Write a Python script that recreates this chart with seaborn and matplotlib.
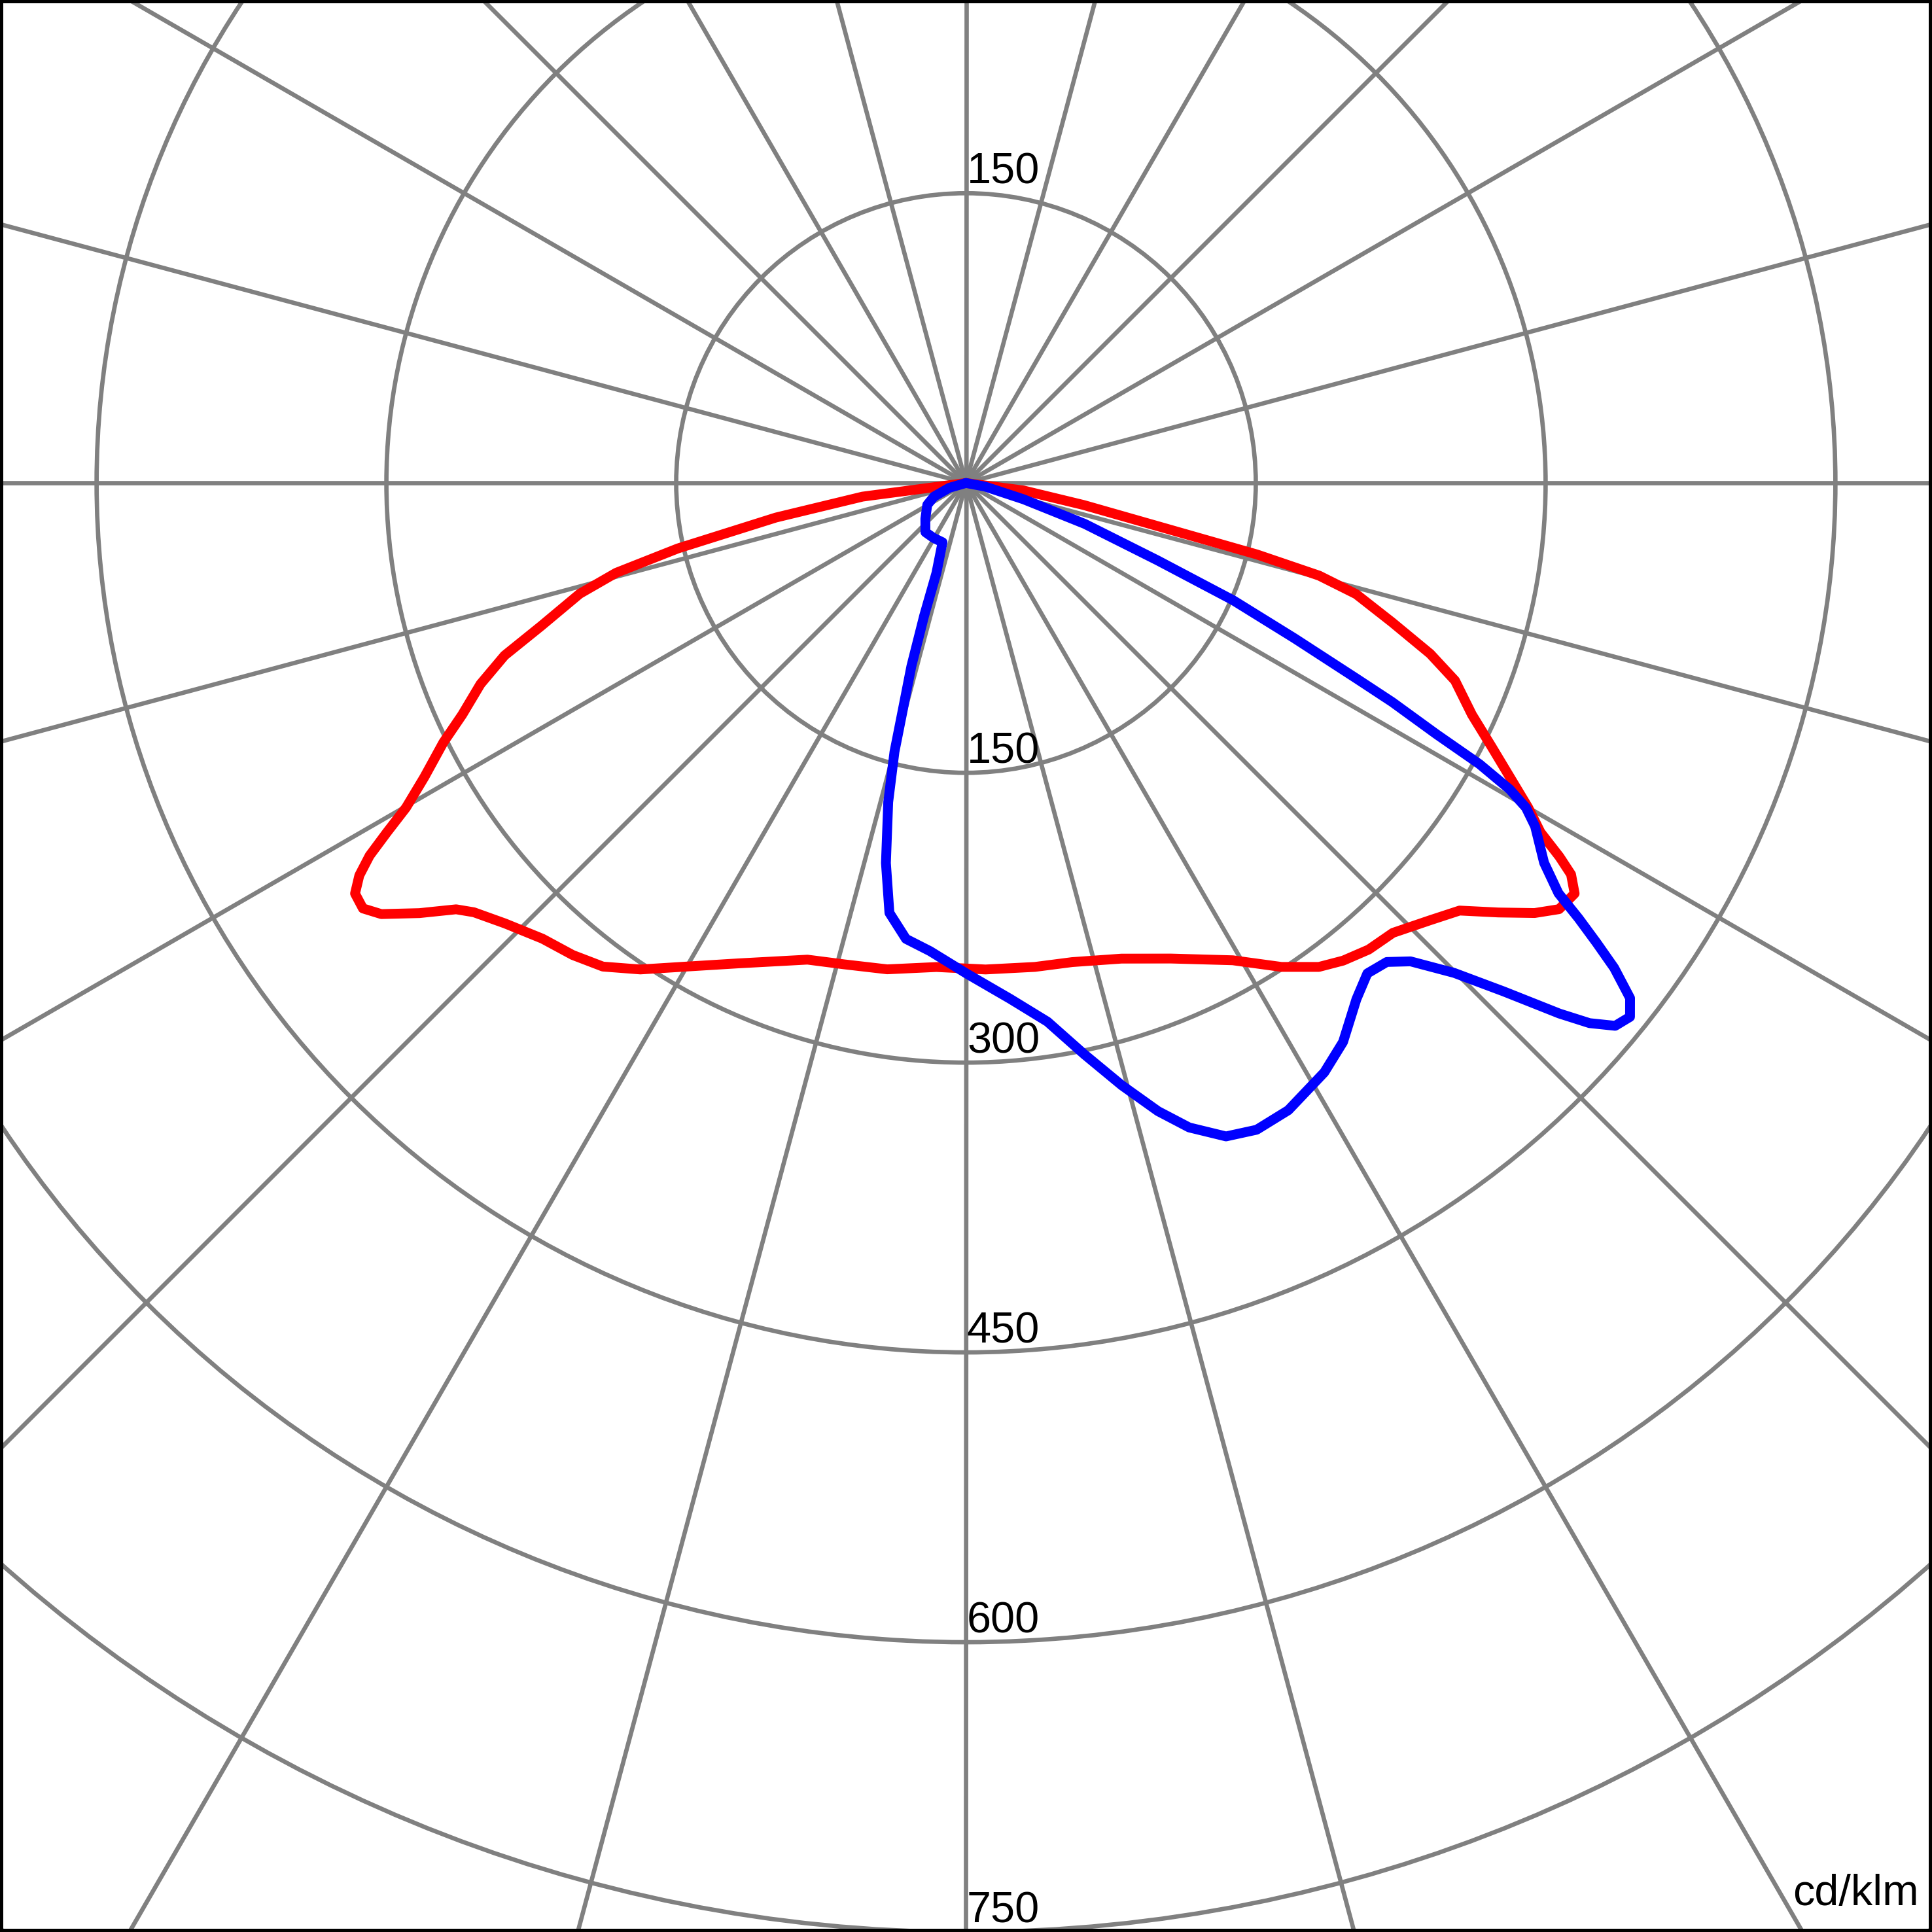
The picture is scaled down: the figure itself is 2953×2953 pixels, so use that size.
import numpy as np
import matplotlib
matplotlib.use("Agg")
import matplotlib.pyplot as plt
from matplotlib.patches import Circle
import seaborn as sns

# gamma angle from nadir in degrees (negative = left half), intensity in cd/klm
red_angles = [-90, -82.5, -79.7, -77.2, -75.6, -74.0, -71.4, -69.5, -67.5, -65.3,
              -63.6, -61.5, -59.9, -58.9, -58.0, -57.1, -56.1, -54.8, -53.6, -51.8,
              -50.1, -48.9, -46.3, -42.9, -39.8, -36.9, -33.8, -29.7, -25.3, -18.4,
              -14.2, -9.2, -3.5, 2.3, 8.1, 12.5, 18.1, 23.3, 29.2, 33.1,
              36.1, 38.3, 40.8, 43.5, 46.7, 49.1, 51.1, 52.9, 54.3, 56.0,
              57.1, 57.8, 58.7, 60.0, 61.6, 63.4, 65.4, 68.0, 69.8, 71.9,
              74.1, 75.3, 76.2, 77.1, 79.4, 82.6, 90]
red_cd = [0, 54, 100, 153, 187, 208, 232, 255, 272, 287,
          302, 319, 335, 350, 364, 374, 381, 382, 376, 360,
          344, 338, 330, 322, 318, 313, 303, 288, 275, 260,
          257, 255, 251, 252, 253, 254, 259, 268, 283, 299,
          310, 315, 319, 321, 330, 338, 354, 369, 378, 380,
          373, 363, 348, 336, 320, 304, 288, 273, 256, 232,
          210, 189, 155, 109, 62, 30, 0]

blue_angles = [-90, -74, -67, -60.6, -48.7, -39.5, -30.6, -21.6, -18.2, -17.5,
               -16.6, -15.6, -14.9, -13.7, -11.9, -10.1, -7.5, -4.4, 0.1, 4.9,
               8.6, 11.7, 14.5, 17.0, 19.1, 21.7, 24.2, 27.2, 31.3, 34.0,
               37.1, 39.3, 41.3, 42.9, 44.9, 46.6, 48.2, 49.1, 50.1, 51.2,
               52.2, 53.2, 53.9, 54.6, 55.3, 56.7, 58.9, 59.9, 60.6, 61.3,
               61.9, 62.8, 63.4, 64.7, 66.3, 68.0, 71.0, 74.2, 79.4, 90]
blue_cd = [0, 9, 18, 23, 28, 33, 33, 33, 49, 72,
           99, 121, 144, 170, 201, 226, 238, 243, 254, 268,
           282, 302, 322, 340, 353, 364, 367, 365, 357, 349,
           335, 328, 330, 338, 358, 383, 412, 427, 438, 441,
           435, 419, 404, 389, 373, 358, 344, 335, 323, 303,
           276, 248, 226, 188, 151, 107, 65, 31, 10, 0]

ring_values = [150, 300, 450, 600, 750, 900]
ring_labels = ["150", "300", "450", "600", "750"]

GRID = "#808080"


def to_xy(angles, values):
    g = np.radians(angles)
    v = np.asarray(values, dtype=float)
    return v * np.sin(g), -v * np.cos(g)


sns.set_style("white")
plt.rcParams["font.family"] = ["Liberation Sans", "DejaVu Sans"]

fig = plt.figure(figsize=(2953 / 300, 2953 / 300), dpi=300)
ax = fig.add_axes([0, 0, 1, 1])

# polar grid
for r in ring_values:
    ax.add_patch(Circle((0, 0), r, fill=False, ec=GRID, lw=1.6, zorder=1))
for a in range(0, 180, 15):
    t = np.radians(a)
    ax.plot([-2000 * np.cos(t), 2000 * np.cos(t)],
            [-2000 * np.sin(t), 2000 * np.sin(t)],
            color=GRID, lw=1.6, zorder=1)

rx, ry = to_xy(red_angles, red_cd)
bx, by = to_xy(blue_angles, blue_cd)
sns.lineplot(x=rx, y=ry, sort=False, estimator=None, color="#ff0000",
             lw=3.6, ax=ax, zorder=3, solid_joinstyle="round",
             solid_capstyle="round")
sns.lineplot(x=bx, y=by, sort=False, estimator=None, color="#0000ff",
             lw=3.6, ax=ax, zorder=4, solid_joinstyle="round",
             solid_capstyle="round")

# ring labels
ax.text(0.5, 150 + 5, "150", fontsize=16, color="black",
        ha="left", va="baseline", zorder=5)
for v, lab in zip(ring_values, ring_labels):
    ax.text(0.5, -v + 5, lab, fontsize=16, color="black",
            ha="left", va="baseline", zorder=5)
ax.text(493, -736, "cd/klm", fontsize=16, color="black",
        ha="right", va="baseline", zorder=5)

ax.set_xlim(-500, 500)
ax.set_ylim(-750, 250)
ax.set_aspect("equal")
ax.set_xticks([])
ax.set_yticks([])
ax.set_xlabel("")
ax.set_ylabel("")
for s in ax.spines.values():
    s.set_visible(True)
    s.set_color("black")
    s.set_linewidth(2.4)

fig.savefig("out.png", dpi=300)
